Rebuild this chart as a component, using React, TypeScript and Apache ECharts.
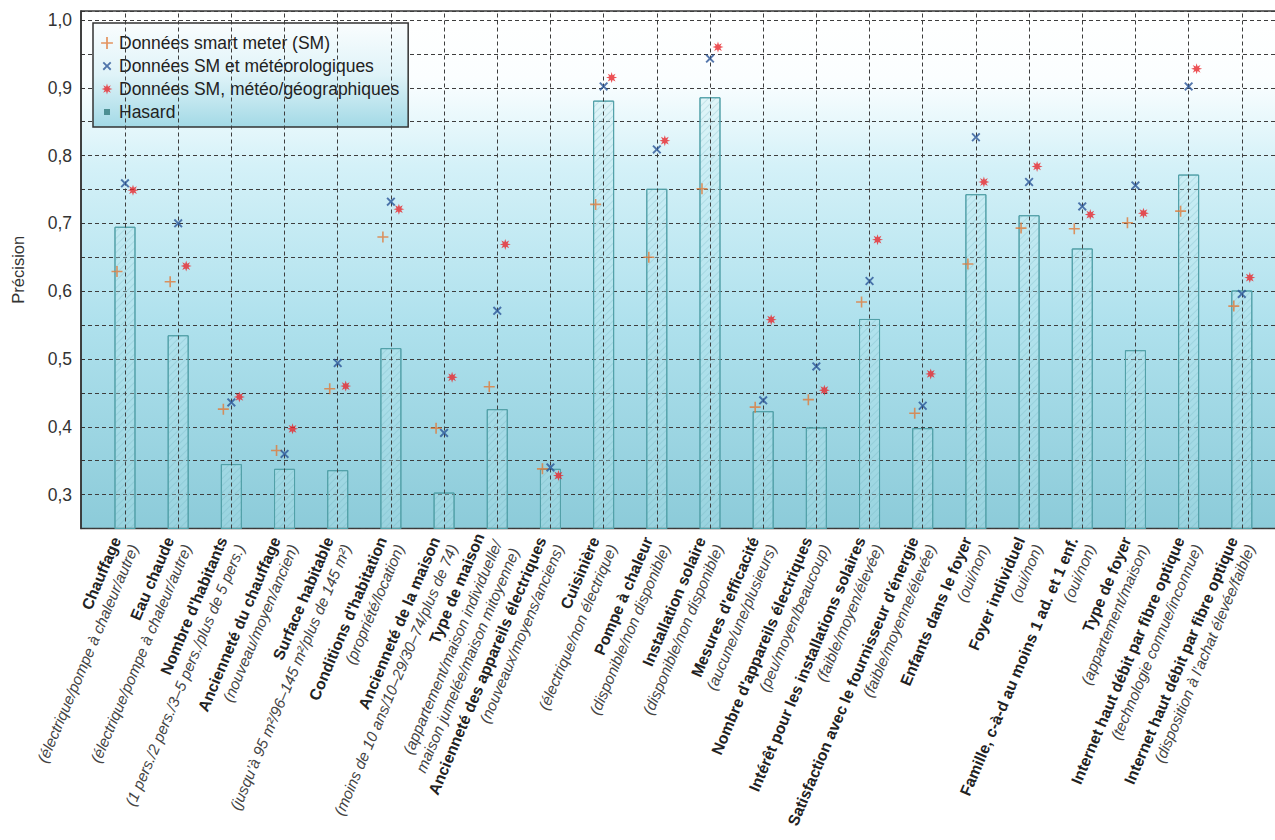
import React, { useEffect, useRef } from 'react';
import * as echarts from 'echarts';

// ---- Data ----
const categoryNames = [
  'Chauffage',
  'Eau chaude',
  "Nombre d'habitants",
  'Ancienneté du chauffage',
  'Surface habitable',
  "Conditions d'habitation",
  'Ancienneté de la maison',
  'Type de maison',
  'Ancienneté des appareils électriques',
  'Cuisinière',
  'Pompe à chaleur',
  'Installation solaire',
  "Mesures d'efficacité",
  "Nombre d'appareils électriques",
  'Intérêt pour les installations solaires',
  "Satisfaction avec le fournisseur d'énergie",
  'Enfants dans le foyer',
  'Foyer individuel',
  'Famille, c-à-d au moins 1 ad. et 1 enf.',
  'Type de foyer',
  'Internet haut débit par fibre optique',
  'Internet haut débit par fibre optique',
];

const categoryDetails = [
  '(électrique/pompe à chaleur/autre)',
  '(électrique/pompe à chaleur/autre)',
  '(1 pers./2 pers./3–5 pers./plus de 5 pers.)',
  '(nouveau/moyen/ancien)',
  '(jusqu’à 95 m²/96–145 m²/plus de 145 m²)',
  '(propriété/location)',
  '(moins de 10 ans/10–29/30–74/plus de 74)',
  '(appartement/maison individuelle/\nmaison jumelée/maison mitoyenne)',
  '(nouveaux/moyens/anciens)',
  '(électrique/non électrique)',
  '(disponible/non disponible)',
  '(disponible/non disponible)',
  '(aucune/une/plusieurs)',
  '(peu/moyen/beaucoup)',
  '(faible/moyen/élevée)',
  '(faible/moyenne/élevée)',
  '(oui/non)',
  '(oui/non)',
  '(oui/non)',
  '(appartement/maison)',
  '(technologie connue/inconnue)',
  '(disposition à l’achat élevée/faible)',
];

const hasard = [
  0.695, 0.535, 0.345, 0.338, 0.336, 0.516, 0.303, 0.426, 0.338, 0.881, 0.751,
  0.886, 0.423, 0.399, 0.559, 0.398, 0.743, 0.712, 0.663, 0.513, 0.772, 0.601,
];
const smData = [
  0.629, 0.614, 0.426, 0.365, 0.456, 0.680, 0.398, 0.459, 0.338, 0.728, 0.650,
  0.751, 0.429, 0.440, 0.584, 0.420, 0.640, 0.693, 0.692, 0.701, 0.718, 0.578,
];
const smMeteo = [
  0.759, 0.700, 0.436, 0.360, 0.494, 0.732, 0.391, 0.571, 0.340, 0.902, 0.809,
  0.943, 0.439, 0.489, 0.615, 0.431, 0.827, 0.761, 0.725, 0.756, 0.902, 0.596,
];
const smMeteoGeo = [
  0.749, 0.637, 0.444, 0.397, 0.460, 0.721, 0.473, 0.669, 0.328, 0.915, 0.822,
  0.960, 0.558, 0.454, 0.676, 0.478, 0.761, 0.784, 0.713, 0.715, 0.928, 0.620,
];

const yTickLabels = ['0,3', '0,4', '0,5', '0,6', '0,7', '0,8', '0,9', '1,0'];

const seriesNames = [
  'Données smart meter (SM)',
  'Données SM et météorologiques',
  'Données SM, météo/géographiques',
  'Hasard',
];

// ---- Styles ----
const FONT = '"Liberation Sans", Arial, Helvetica, sans-serif';
const ORANGE = '#e07b39';
const BLUE = '#2b5597';
const RED = '#e8262b';
const TEAL = '#4d8f93';

const PLUS = 'M4.7,0 H6.3 V4.7 H11 V6.3 H6.3 V11 H4.7 V6.3 H0 V4.7 H4.7 Z';
const CROSS =
  'M0,1.5 L1.5,0 L5,3.5 L8.5,0 L10,1.5 L6.5,5 L10,8.5 L8.5,10 L5,6.5 L1.5,10 L0,8.5 L3.5,5 Z';
function makeStar(): string {
  const pts: string[] = [];
  for (let k = 0; k < 16; k++) {
    const a = (-90 + k * 22.5) * (Math.PI / 180);
    const r = k % 2 === 0 ? 5 : 2.3;
    pts.push((5 + r * Math.cos(a)).toFixed(2) + ',' + (5 + r * Math.sin(a)).toFixed(2));
  }
  return 'M' + pts.join(' L') + ' Z';
}
const STAR = makeStar();

const Y_MIN = 0.25;
const Y_MAX = 1.0132;

export default function App() {
  const ref = useRef<HTMLDivElement>(null);

  useEffect(() => {
    if (!ref.current) return;
    const chart = echarts.init(ref.current, undefined, { renderer: 'svg' });

    const categories = categoryNames.map((n, i) => n + '\n' + categoryDetails[i]);

    const yBase = {
      type: 'value',
      min: Y_MIN,
      max: Y_MAX,
      interval: 0.05,
    };

    const option: any = {
      animation: false,
      textStyle: { fontFamily: FONT },
      grid: [
        {
          left: 81,
          top: 11,
          right: -20,
          bottom: 311.5,
          outerBoundsMode: 'none',
          containLabel: false,
          show: true,
          borderColor: '#3a3a3a',
          borderWidth: 1.5,
          backgroundColor: {
            type: 'linear',
            x: 0,
            y: 0,
            x2: 0,
            y2: 1,
            colorStops: [
              { offset: 0, color: '#ffffff' },
              { offset: 0.13, color: '#fbfeff' },
              { offset: 0.3, color: '#d4f1f8' },
              { offset: 0.6, color: '#afe1ed' },
              { offset: 1, color: '#8ccbd9' },
            ],
          },
        },
        {
          left: 98.4,
          top: 11,
          right: 6.6,
          bottom: 311.5,
          outerBoundsMode: 'none',
          containLabel: false,
        },
      ],
      legend: {
        orient: 'vertical',
        left: 93,
        top: 23,
        padding: [11, 9, 6, 7],
        itemGap: 5,
        itemWidth: 14,
        itemHeight: 14,
        borderColor: '#333',
        borderWidth: 1.5,
        backgroundColor: {
          type: 'linear',
          x: 0,
          y: 0,
          x2: 0,
          y2: 1,
          colorStops: [
            { offset: 0, color: '#fafdfe' },
            { offset: 0.5, color: '#dff3f8' },
            { offset: 1, color: '#a3d9e6' },
          ],
        },
        textStyle: { fontSize: 17.5, color: '#222', fontFamily: FONT },
        data: [
          { name: seriesNames[0], icon: 'path://M-1,-1 M12,12 ' + PLUS },
          { name: seriesNames[1], icon: 'path://M-3,-3 M13,13 ' + CROSS },
          { name: seriesNames[2], icon: 'path://M-1.5,-1.5 M11.5,11.5 ' + STAR },
          {
            name: seriesNames[3],
            icon: 'path://M0,0 M14,14 M4,4 H10 V10 H4 Z',
            itemStyle: { color: TEAL, borderWidth: 0, decal: 'none' },
          },
        ],
      },
      xAxis: [
        { type: 'value', gridIndex: 0, show: false, min: 0, max: 1 },
        {
          type: 'category',
          gridIndex: 1,
          data: categories,
          axisLine: { show: false },
          axisTick: { show: false },
          splitLine: { show: false },
          axisLabel: {
            interval: 0,
            rotate: 67,
            margin: 13,
            hideOverlap: false,
            formatter: (value: string) => {
              const lines = value.split('\n');
              return lines
                .map((l, j) => (j === 0 ? '{b|' + l + '}' : '{i|' + l + '}'))
                .join('\n');
            },
            rich: {
              b: {
                fontFamily: FONT,
                fontWeight: 'bold',
                fontSize: 15.8,
                color: '#222',
                lineHeight: 19,
              },
              i: {
                fontFamily: FONT,
                fontStyle: 'italic',
                fontSize: 15.4,
                color: '#444',
                lineHeight: 19,
              },
            },
          },
        },
      ],
      yAxis: [
        {
          ...yBase,
          gridIndex: 0,
          name: 'Précision',
          nameLocation: 'middle',
          nameRotate: 90,
          nameGap: 55,
          nameTextStyle: { fontSize: 16.5, color: '#333', fontFamily: FONT },
          axisLine: { show: true, lineStyle: { color: '#333', width: 1.5 } },
          axisTick: { show: true, inside: true, length: 4, lineStyle: { color: '#333' } },
          axisLabel: {
            fontSize: 17.5,
            color: '#333',
            margin: 9,
            fontFamily: FONT,
            formatter: (v: number) => {
              const t = Math.round(v * 100);
              if (Math.abs(v * 100 - t) > 0.01) return '';
              if (t % 10 !== 0) return '';
              const idx = t / 10 - 3;
              return idx >= 0 && idx < yTickLabels.length ? yTickLabels[idx] : '';
            },
          },
          splitLine: {
            show: true,
            lineStyle: { type: [4, 3], color: '#3d3d3d', width: 1 },
          },
        },
        {
          ...yBase,
          gridIndex: 1,
          axisLine: { show: false },
          axisTick: { show: false },
          axisLabel: { show: false },
          splitLine: { show: false },
        },
      ],
      series: [
        {
          name: seriesNames[3],
          type: 'bar',
          xAxisIndex: 1,
          yAxisIndex: 1,
          data: hasard,
          barWidth: 21,
          itemStyle: {
            color: 'rgba(185,232,240,0.3)',
            borderColor: '#52a0a8',
            borderWidth: 1,
            decal: {
              symbol: 'rect',
              symbolSize: 1,
              dashArrayX: [1, 0],
              dashArrayY: [1, 4],
              rotation: -Math.PI / 4,
              color: 'rgba(95,165,175,0.22)',
            },
          },
          emphasis: { disabled: true },
          z: 2,
          markLine: {
            silent: true,
            symbol: ['none', 'none'],
            label: { show: false },
            lineStyle: { type: [4, 3], color: '#3d3d3d', width: 1 },
            data: categories.map((_, i) => ({ xAxis: i })),
          },
        },
        {
          name: seriesNames[0],
          type: 'scatter',
          xAxisIndex: 1,
          yAxisIndex: 1,
          data: smData,
          symbol: 'path://' + PLUS,
          symbolSize: 11,
          symbolOffset: [-8, 0],
          itemStyle: { color: ORANGE },
          z: 5,
        },
        {
          name: seriesNames[1],
          type: 'scatter',
          xAxisIndex: 1,
          yAxisIndex: 1,
          data: smMeteo,
          symbol: 'path://' + CROSS,
          symbolSize: 9,
          itemStyle: { color: BLUE },
          z: 5,
        },
        {
          name: seriesNames[2],
          type: 'scatter',
          xAxisIndex: 1,
          yAxisIndex: 1,
          data: smMeteoGeo,
          symbol: 'path://' + STAR,
          symbolSize: 11,
          symbolOffset: [8, 0],
          itemStyle: { color: RED },
          z: 5,
        },
      ],
    };

    chart.setOption(option);
    return () => {
      chart.dispose();
    };
  }, []);

  return (
    <div
      ref={ref}
      style={{ position: 'fixed', left: 0, top: 0, width: 1275, height: 840, background: '#fff' }}
    />
  );
}
